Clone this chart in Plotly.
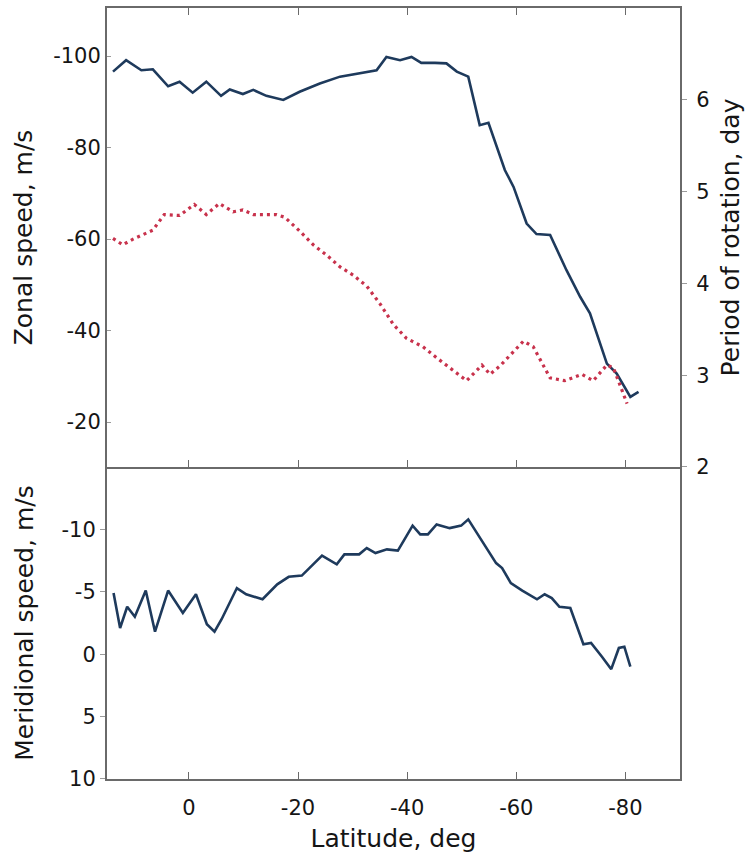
import plotly.graph_objects as go

# Zonal wind speed (m/s) versus latitude (deg)
lat_zonal = [13.9, 11.5, 8.7, 6.6, 3.8, 1.7, -0.7, -3.2, -5.9, -7.5, -9.9, -11.8,
             -14.2, -17.3, -20.3, -24.0, -27.7, -31.3, -34.4, -36.2, -38.7, -40.8,
             -42.6, -45.1, -47.2, -49.1, -51.2, -53.3, -54.9, -57.9, -59.5, -61.9,
             -63.7, -66.2, -69.2, -71.7, -73.5, -76.6, -78.4, -80.9, -82.4]
zonal_speed = [-96.6, -99.1, -96.9, -97.1, -93.4, -94.4, -92.0, -94.4, -91.3, -92.7,
               -91.7, -92.6, -91.3, -90.4, -92.2, -94.0, -95.5, -96.2, -96.9, -99.8,
               -99.1, -99.8, -98.5, -98.5, -98.4, -96.6, -95.5, -84.9, -85.4, -75.1,
               -71.4, -63.4, -61.1, -60.9, -53.2, -47.4, -43.8, -32.8, -30.6, -25.5,
               -26.6]

# Rotation period (days) versus latitude (deg)
lat_period = [13.9, 12.1, 10.3, 6.6, 4.5, 1.7, -1.0, -3.2, -5.6, -8.1, -9.9, -11.8,
              -16.0, -17.6, -20.3, -22.8, -25.2, -27.7, -30.1, -32.6, -35.0, -37.5,
              -39.9, -42.9, -45.4, -47.8, -49.7, -50.9, -53.7, -55.2, -57.0, -59.8,
              -61.3, -63.1, -65.0, -66.2, -68.9, -72.0, -74.1, -76.6, -77.8, -80.3]
period_days = [4.49, 4.42, 4.48, 4.58, 4.75, 4.74, 4.86, 4.75, 4.87, 4.78, 4.80, 4.75,
               4.75, 4.72, 4.57, 4.42, 4.31, 4.18, 4.09, 3.97, 3.78, 3.55, 3.40, 3.31,
               3.19, 3.08, 3.00, 2.94, 3.11, 3.01, 3.10, 3.28, 3.37, 3.31, 3.11, 2.97,
               2.94, 3.01, 2.94, 3.11, 3.08, 2.69]

# Meridional wind speed (m/s) versus latitude (deg)
lat_merid = [13.8, 12.6, 11.3, 9.9, 7.9, 6.2, 3.8, 1.1, -1.3, -3.3, -4.7, -6.0, -8.8,
             -10.5, -13.5, -16.2, -18.3, -20.7, -24.4, -27.1, -28.5, -31.2, -32.6,
             -34.2, -36.3, -38.3, -41.0, -42.4, -43.8, -45.4, -47.8, -49.9, -51.2,
             -53.6, -56.3, -57.4, -59.0, -61.1, -63.8, -65.2, -66.5, -67.9, -69.9,
             -72.3, -73.7, -75.7, -77.4, -78.8, -79.8, -80.9]
merid_speed = [-4.9, -2.1, -3.8, -3.0, -5.1, -1.8, -5.1, -3.3, -4.8, -2.4, -1.8, -2.8,
               -5.3, -4.8, -4.4, -5.6, -6.2, -6.3, -7.9, -7.2, -8.0, -8.0, -8.5, -8.1,
               -8.4, -8.3, -10.3, -9.6, -9.6, -10.4, -10.1, -10.3, -10.8, -9.2, -7.3,
               -6.9, -5.7, -5.1, -4.4, -4.8, -4.5, -3.8, -3.7, -0.8, -0.9, 0.2, 1.2,
               -0.5, -0.6, 1.0]

# Tick positions and their printed labels (plain hyphen as minus sign)
lat_ticks = [0, -20, -40, -60, -80]
lat_labels = ["0", "-20", "-40", "-60", "-80"]
zonal_ticks = [-100, -80, -60, -40, -20]
zonal_labels = ["-100", "-80", "-60", "-40", "-20"]
period_ticks = [2, 3, 4, 5, 6]
period_labels = ["2", "3", "4", "5", "6"]
merid_ticks = [10, 5, 0, -5, -10]
merid_labels = ["10", "5", "0", "-5", "-10"]

NAVY = "#1e3a5c"
CRIMSON = "#c8324c"
AXIS = "#6a6a6a"
FONT = "DejaVu Sans"
split = 0.4047

fig = go.Figure()
fig.add_trace(go.Scatter(x=lat_zonal, y=zonal_speed, xaxis="x", yaxis="y",
                         mode="lines", line=dict(color=NAVY, width=2.6)))
fig.add_trace(go.Scatter(x=lat_period, y=period_days, xaxis="x", yaxis="y3",
                         mode="lines", line=dict(color=CRIMSON, width=3.2, dash="3px,4px")))
fig.add_trace(go.Scatter(x=lat_merid, y=merid_speed, xaxis="x2", yaxis="y2",
                         mode="lines", line=dict(color=NAVY, width=2.6)))

common_x = dict(range=[15, -90], tickvals=lat_ticks, ticktext=lat_labels, showline=True,
                linecolor=AXIS, linewidth=2, ticks="inside", ticklen=7, tickcolor=AXIS,
                tickwidth=1, showgrid=False, zeroline=False, automargin=False)
common_y = dict(showline=True, linecolor=AXIS, linewidth=2, tickcolor="#9a9a9a",
                tickwidth=1, ticklen=4, showgrid=False, zeroline=False, automargin=False)

fig.update_layout(
    width=746, height=856,
    margin=dict(l=107, r=66, t=8, b=77),
    paper_bgcolor="white", plot_bgcolor="white",
    showlegend=False,
    font=dict(family=FONT, size=21, color="#151515"),
    xaxis=dict(common_x, domain=[0, 1], anchor="y", showticklabels=False, mirror="ticks"),
    xaxis2=dict(common_x, domain=[0, 1], anchor="y2", ticklabelstandoff=9,
                title=dict(text="Latitude, deg", font=dict(size=25), standoff=10)),
    yaxis=dict(common_y, domain=[split, 1], anchor="x", range=[-10.2, -110.5],
               tickvals=zonal_ticks, ticktext=zonal_labels, ticks="inside",
               ticklabelstandoff=0,
               title=dict(text="Zonal speed, m/s", font=dict(size=25), standoff=13)),
    yaxis3=dict(common_y, overlaying="y", side="right", anchor="x", range=[2, 7],
                tickvals=period_ticks, ticktext=period_labels, ticks="outside",
                ticklen=5, ticklabelstandoff=5,
                title=dict(text="Period of rotation, day", font=dict(size=25), standoff=13)),
    yaxis2=dict(common_y, domain=[0, split], anchor="x2", range=[10, -15],
                tickvals=merid_ticks, ticktext=merid_labels, ticks="outside", ticklen=5,
                mirror=True, ticklabelstandoff=0,
                title=dict(text="Meridional speed, m/s", font=dict(size=25), standoff=21)),
)

fig.write_html("out.html")
